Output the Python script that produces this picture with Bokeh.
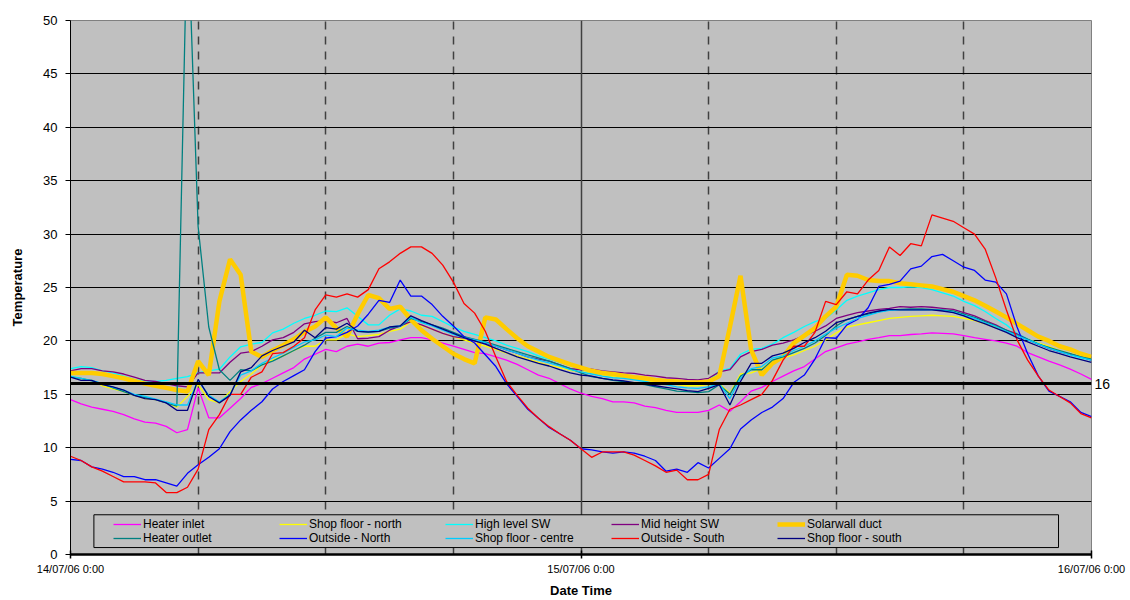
from bokeh.plotting import figure
from bokeh.models import (ColumnDataSource, Range1d, FixedTicker, Legend, LegendItem,
                          Span, BoxAnnotation, Grid, LinearAxis)
from bokeh.embed import file_html
from bokeh.resources import INLINE

# ---------------- data (30-minute readings from 14/07/06 0:00) ----------------
N_READINGS = 97
HOURS = [0.5 * i for i in range(N_READINGS)]
X_TICKS = [0, 24, 48]
X_TICK_LABELS = ["14/07/06 0:00", "15/07/06 0:00", "16/07/06 0:00"]
Y_TICKS = [0, 5, 10, 15, 20, 25, 30, 35, 40, 45, 50]
SIX_HOUR_MARKS = [6, 12, 18, 30, 36, 42]
DAY_MARKS = [24]
THRESHOLD = 16

heater_inlet = [
    14.5, 14.1, 13.8, 13.6, 13.4, 13.1, 12.7, 12.4, 12.3, 12.0, 11.4, 11.7, 15.6, 12.8, 12.8, 13.7,
    14.6, 15.65, 16.0, 16.5, 17.0, 17.5, 18.3, 18.75, 19.2,
    19.0, 19.5, 19.7, 19.5, 19.8, 19.85, 20.1, 20.3, 20.3, 20.1, 19.8, 19.5, 19.2, 18.9, 18.8, 18.5,
    18.2, 17.8, 17.3, 16.8, 16.5, 16.0, 15.5, 15.1,
    14.8, 14.6, 14.3, 14.3, 14.2, 13.9, 13.75, 13.5, 13.3, 13.3, 13.3, 13.5, 14.0, 13.4, 14.3, 15.3,
    15.65, 16.2, 16.7, 17.2, 17.6, 18.3, 19.0, 19.35,
    19.7, 19.9, 20.15, 20.3, 20.5, 20.5, 20.6, 20.65, 20.75, 20.7, 20.65, 20.5, 20.3, 20.15, 20.0,
    19.8, 19.5, 18.9, 18.5, 18.1, 17.75, 17.35, 16.9, 16.4]

heater_outlet = [
    16.6, 16.5, 16.25, 16.0, 15.6, 15.25, 14.9, 14.7, 14.5, 14.2, 13.9, 60.0, 30.7, 21.3, 17.3, 16.3,
    17.3, 17.2, 17.75, 18.1, 18.6, 19.1, 19.6, 20.25, 20.8,
    20.8, 21.35, 20.9, 20.8, 20.9, 21.2, 21.35, 22.1, 21.8, 21.5, 21.2, 20.8, 20.4, 20.15, 19.9, 19.6,
    19.3, 19.0, 18.7, 18.4, 18.1, 17.75, 17.4, 17.0,
    16.65, 16.5, 16.3, 16.2, 16.0, 15.9, 15.7, 15.5, 15.3, 15.25, 15.15, 15.25, 15.9, 15.0, 16.7, 17.3,
    17.3, 18.2, 18.5, 18.9, 19.3, 19.8, 20.5, 21.4,
    22.0, 22.3, 22.5, 22.75, 22.9, 22.95, 23.0, 23.0, 22.95, 22.9, 22.8, 22.5, 22.2, 21.8, 21.4,
    21.0, 20.55, 20.15, 19.7, 19.4, 19.1, 18.8, 18.5, 18.3]

shop_floor_north = [
    16.7, 16.5, 16.3, 15.8, 15.5, 15.25, 14.9, 14.6, 14.5, 14.25, 13.8, 14.8, 15.9, 14.5, 14.2, 15.25,
    16.2, 16.9, 17.75, 18.2, 18.6, 19.1, 19.5, 19.5, 20.1,
    20.1, 20.65, 20.4, 20.5, 20.6, 20.9, 21.1, 21.8, 21.4, 21.1, 20.7, 20.4, 20.1, 19.8, 19.5, 19.2,
    18.85, 18.6, 18.3, 18.0, 17.7, 17.5, 17.25, 17.1,
    17.0, 16.8, 16.65, 16.55, 16.4, 16.3, 16.15, 16.0, 15.9, 15.8, 15.8, 15.9, 16.0, 15.1, 16.9, 17.0,
    17.4, 18.1, 18.4, 18.7, 19.1, 19.5, 20.1, 20.75,
    21.3, 21.5, 21.7, 21.9, 22.1, 22.2, 22.3, 22.35, 22.4, 22.35, 22.3, 22.1, 21.9, 21.6, 21.3,
    20.9, 20.55, 20.2, 19.8, 19.5, 19.1, 18.8, 18.55, 18.3]

outside_north = [
    8.9, 8.8, 8.2, 8.0, 7.7, 7.3, 7.3, 7.0, 7.0, 6.7, 6.4, 7.6, 8.4, 9.1, 9.9, 11.5,
    12.6, 13.5, 14.3, 15.5, 16.2, 16.75, 17.3, 19.0, 20.25,
    20.4, 20.8, 21.4, 22.5, 23.8, 23.6, 25.7, 24.2, 24.2, 23.4, 22.3, 21.4, 20.4, 19.8, 18.7, 17.6,
    16.0, 14.8, 13.6, 12.75, 11.9, 11.3, 10.7, 9.9,
    9.8, 9.6, 9.5, 9.6, 9.5, 9.2, 8.8, 7.8, 8.0, 7.7, 8.6, 8.1, 9.0, 9.9, 11.75, 12.6,
    13.3, 13.8, 14.6, 16.1, 16.8, 18.3, 20.3, 20.25,
    21.5, 22.0, 23.1, 25.1, 25.3, 25.6, 26.75, 27.0, 27.9, 28.1, 27.5, 26.9, 26.6, 25.7, 25.5,
    24.4, 21.3, 18.8, 16.7, 15.3, 14.8, 14.3, 13.3, 12.9]

high_level_sw = [
    17.4, 17.6, 17.5, 17.2, 17.0, 16.7, 16.4, 16.25, 16.2, 16.3, 16.5, 16.65, 17.0, 17.2, 17.35, 18.5,
    19.45, 19.7, 19.85, 20.75, 21.1, 21.65, 22.1, 22.4, 22.8,
    22.75, 23.1, 22.3, 21.5, 21.5, 22.4, 23.0, 22.8, 22.4, 22.3, 21.8, 21.3, 20.9, 20.6, 20.3, 20.0,
    19.6, 19.3, 19.0, 18.6, 18.3, 18.0, 17.7, 17.3,
    17.1, 16.9, 16.8, 16.7, 16.65, 16.5, 16.4, 16.3, 16.2, 16.1, 16.1, 16.25, 17.2, 17.4, 18.75, 19.2,
    19.3, 19.7, 20.3, 20.8, 21.35, 21.8, 22.1, 22.9,
    23.8, 24.2, 24.5, 24.8, 25.0, 25.0, 25.05, 25.0, 24.8, 24.5, 24.2, 23.7, 23.3, 22.75, 22.1,
    21.5, 20.7, 20.2, 19.75, 19.3, 19.0, 18.7, 18.4, 18.2]

shop_floor_centre = [
    16.7, 16.5, 16.3, 16.0, 15.65, 15.4, 15.0, 14.8, 14.55, 14.3, 14.0, 14.0, 16.35, 14.9, 14.3, 15.0,
    16.8, 17.2, 17.9, 18.4, 18.85, 19.4, 19.9, 20.1, 20.55,
    20.4, 21.2, 21.0, 20.9, 21.0, 21.3, 21.4, 22.2, 21.7, 21.4, 21.0, 20.6, 20.3, 20.1, 19.85, 19.5,
    19.15, 18.85, 18.5, 18.2, 17.95, 17.65, 17.3, 17.1,
    16.9, 16.7, 16.55, 16.5, 16.35, 16.2, 16.0, 15.9, 15.7, 15.6, 15.55, 15.7, 16.0, 14.6, 16.5, 17.4,
    17.6, 18.4, 18.6, 19.1, 19.5, 20.0, 20.65, 21.2,
    21.65, 22.1, 22.4, 22.7, 22.85, 22.9, 22.9, 22.9, 22.9, 22.85, 22.7, 22.4, 22.1, 21.7, 21.35,
    20.9, 20.5, 20.1, 19.7, 19.3, 19.0, 18.7, 18.45, 18.2]

mid_height_sw = [
    17.2, 17.4, 17.4, 17.2, 17.1, 16.9, 16.6, 16.3, 16.2, 16.0, 15.8, 15.7, 17.0, 17.0, 17.0, 18.0,
    18.85, 19.0, 19.5, 20.1, 20.3, 20.8, 21.6, 21.8, 21.9,
    21.7, 22.1, 20.2, 20.25, 20.4, 21.0, 21.4, 21.8, 21.5, 21.1, 20.7, 20.4, 20.25, 20.0, 19.8, 19.5,
    19.15, 18.85, 18.5, 18.3, 18.1, 17.75, 17.4, 17.3,
    17.35, 17.2, 17.1, 17.0, 16.95, 16.8, 16.7, 16.55, 16.5, 16.4, 16.35, 16.5, 17.1, 17.3, 18.5, 19.0,
    19.2, 19.6, 19.8, 20.1, 20.5, 20.9, 21.4, 22.1,
    22.4, 22.65, 22.8, 22.95, 23.05, 23.2, 23.15, 23.2, 23.15, 23.05, 22.95, 22.65, 22.35, 21.9, 21.5,
    21.0, 20.65, 20.15, 19.7, 19.3, 19.0, 18.75, 18.5, 18.2]

outside_south = [
    9.2, 8.8, 8.2, 7.8, 7.3, 6.8, 6.8, 6.8, 6.7, 5.8, 5.8, 6.3, 8.0, 11.7, 13.1, 15.0,
    15.0, 16.6, 17.1, 18.8, 18.9, 19.5, 20.3, 22.9, 24.3,
    24.1, 24.4, 24.1, 24.8, 26.75, 27.4, 28.2, 28.8, 28.8, 28.2, 27.1, 25.5, 23.5, 22.6, 20.9, 18.5,
    16.2, 14.9, 13.7, 12.75, 11.97, 11.3, 10.7, 9.9,
    9.1, 9.6, 9.6, 9.6, 9.3, 8.8, 8.3, 7.7, 7.9, 7.0, 7.0, 7.5, 11.7, 13.6, 14.0, 14.5,
    15.0, 16.3, 18.2, 19.5, 19.5, 20.8, 23.7, 23.4,
    24.6, 24.4, 25.7, 26.6, 28.8, 28.0, 29.1, 28.9, 31.8, 31.5, 31.2, 30.6, 30.0, 28.6, 25.9,
    22.9, 20.1, 18.2, 16.7, 15.4, 14.8, 14.2, 13.2, 12.8]

solarwall_duct = [
    17.0, 17.0, 17.0, 16.9, 16.7, 16.5, 16.25, 16.0, 15.8, 15.6, 15.4, 15.25, 18.1, 16.8, 23.7, 27.65,
    26.2, 19.0, 18.5, 19.1, 19.6, 20.15, 20.85, 21.35, 22.2,
    21.2, 20.4, 22.5, 24.3, 24.0, 23.0, 23.2, 22.0, 21.0, 20.2, 19.5, 18.8, 18.3, 17.9, 22.2, 22.0,
    21.1, 20.25, 19.5, 19.0, 18.5, 18.15, 17.8, 17.5,
    17.2, 17.0, 16.9, 16.75, 16.6, 16.5, 16.35, 16.25, 16.2, 16.1, 16.1, 16.2, 16.7, 21.3, 26.1, 19.15,
    16.8, 17.9, 18.5, 19.8, 20.5, 21.2, 22.3, 23.2,
    26.2, 26.1, 25.7, 25.6, 25.6, 25.4, 25.3, 25.2, 25.1, 24.85, 24.6, 24.2, 23.8, 23.3, 22.75,
    22.2, 21.6, 21.0, 20.4, 20.0, 19.5, 19.2, 18.8, 18.5]

shop_floor_south = [
    16.6, 16.3, 16.3, 15.9, 15.7, 15.4, 14.9, 14.6, 14.5, 14.2, 13.5, 13.5, 16.4, 14.8, 14.2, 14.9,
    17.1, 17.5, 18.6, 19.1, 19.5, 19.9, 21.0, 20.3, 21.25,
    21.1, 21.65, 20.9, 20.85, 20.9, 21.3, 21.4, 22.35, 21.9, 21.5, 21.1, 20.7, 20.3, 20.0, 19.7, 19.3,
    18.9, 18.5, 18.2, 17.9, 17.65, 17.3, 17.0, 16.8,
    16.7, 16.5, 16.35, 16.25, 16.1, 15.95, 15.8, 15.65, 15.5, 15.35, 15.25, 15.55, 15.9, 14.0, 16.2, 17.9,
    17.9, 18.6, 18.85, 19.3, 19.85, 20.3, 20.9, 21.7,
    22.0, 22.3, 22.6, 22.8, 22.95, 22.9, 22.9, 22.9, 22.9, 22.8, 22.65, 22.35, 21.95, 21.6, 21.2,
    20.8, 20.3, 19.9, 19.5, 19.1, 18.8, 18.5, 18.25, 18.0]

# series: (legend label, column, values, colour, line width) - drawing / legend order
SERIES = [
    ("Heater inlet", "heater_inlet", heater_inlet, "#FF00FF", 1.3),
    ("Shop floor - north", "shop_floor_north", shop_floor_north, "#FFFF00", 1.3),
    ("High level SW", "high_level_sw", high_level_sw, "#00FFFF", 1.3),
    ("Mid height SW", "mid_height_sw", mid_height_sw, "#800080", 1.3),
    ("Solarwall duct", "solarwall_duct", solarwall_duct, "#FFCC00", 4.5),
    ("Heater outlet", "heater_outlet", heater_outlet, "#008080", 1.3),
    ("Outside - North", "outside_north", outside_north, "#0000FF", 1.3),
    ("Shop floor - centre", "shop_floor_centre", shop_floor_centre, "#00CCFF", 1.3),
    ("Outside - South", "outside_south", outside_south, "#FF0000", 1.3),
    ("Shop floor - south", "shop_floor_south", shop_floor_south, "#000080", 1.3),
]

FONT = "Liberation Sans"

data = {"hours": HOURS}
for _, col, vals, _, _ in SERIES:
    data[col] = vals
source = ColumnDataSource(data)

p = figure(width=1130, height=600, output_backend="svg", toolbar_location=None,
           x_range=Range1d(X_TICKS[0], X_TICKS[-1]), y_range=Range1d(Y_TICKS[0], Y_TICKS[-1]),
           min_border_left=70, min_border_right=39, min_border_top=20, min_border_bottom=45,
           background_fill_color="#C0C0C0", border_fill_color="white",
           outline_line_color="#808080", outline_line_width=1)

# x axis
p.xaxis.ticker = FixedTicker(ticks=X_TICKS, minor_ticks=[])
p.xaxis.major_label_overrides = dict(zip(X_TICKS, X_TICK_LABELS))
p.xaxis.axis_label = "Date Time"
p.xaxis.axis_label_text_font = FONT
p.xaxis.axis_label_text_font_size = "13px"
p.xaxis.axis_label_text_font_style = "bold"
p.xaxis.axis_label_text_color = "black"
p.xaxis.axis_label_standoff = 5
p.xaxis.major_label_text_font = FONT
p.xaxis.major_label_text_font_size = "11px"
p.xaxis.major_label_text_color = "black"
p.xaxis.major_label_standoff = 4
p.xaxis.axis_line_color = "black"
p.xaxis.axis_line_width = 2.5
p.xaxis.major_tick_line_color = "black"
p.xaxis.major_tick_line_width = 1.5
p.xaxis.major_tick_in = 4
p.xaxis.major_tick_out = 4
p.xaxis.minor_tick_line_color = None

# y axis
p.yaxis.ticker = FixedTicker(ticks=Y_TICKS, minor_ticks=[])
p.yaxis.axis_label = "Temperature"
p.yaxis.axis_label_text_font = FONT
p.yaxis.axis_label_text_font_size = "13px"
p.yaxis.axis_label_text_font_style = "bold"
p.yaxis.axis_label_text_color = "black"
p.yaxis.axis_label_standoff = 15
p.yaxis.major_label_text_font = FONT
p.yaxis.major_label_text_font_size = "13px"
p.yaxis.major_label_text_color = "black"
p.yaxis.major_label_standoff = 8
p.yaxis.axis_line_color = "black"
p.yaxis.axis_line_width = 1
p.yaxis.major_tick_line_color = "black"
p.yaxis.major_tick_in = 0
p.yaxis.major_tick_out = 5
p.yaxis.minor_tick_line_color = None

# right-hand axis carrying only the threshold value label
thr_axis = LinearAxis(ticker=FixedTicker(ticks=[THRESHOLD], minor_ticks=[]),
                      axis_line_color=None, major_tick_line_color=None,
                      minor_tick_line_color=None, major_tick_in=0, major_tick_out=0,
                      major_label_standoff=3, major_label_text_font=FONT,
                      major_label_text_font_size="14px", major_label_text_color="black",
                      major_label_text_baseline="bottom")
p.add_layout(thr_axis, "right")

# grids
p.ygrid.ticker = FixedTicker(ticks=Y_TICKS[1:-1])
p.ygrid.grid_line_color = "black"
p.ygrid.grid_line_width = 1
p.ygrid.grid_line_alpha = 1
p.xgrid.ticker = FixedTicker(ticks=SIX_HOUR_MARKS)
p.xgrid.grid_line_color = "#404040"
p.xgrid.grid_line_width = 1.5
p.xgrid.grid_line_dash = "8 7"
p.xgrid.grid_line_alpha = 1
day_grid = Grid(dimension=0, ticker=FixedTicker(ticks=DAY_MARKS),
                grid_line_color="#404040", grid_line_width=1.5)
p.add_layout(day_grid)

# series lines
items = []
for label, col, _, color, lw in SERIES:
    r = p.line("hours", col, source=source, line_color=color, line_width=lw)
    items.append(LegendItem(label=label, renderers=[r]))

# threshold line
p.add_layout(Span(location=THRESHOLD, dimension="width", line_color="black", line_width=3))

# legend frame (layout decoration in chart units) and legend
p.add_layout(BoxAnnotation(left=1.1, right=46.45, bottom=0.65, top=3.72,
                           fill_color="#C0C0C0", fill_alpha=1,
                           line_color="black", line_width=1, line_alpha=1))
legend = Legend(items=items, location=(43, 9), orientation="horizontal", ncols=5,
                glyph_width=28, glyph_height=12, label_standoff=2, label_width=136,
                label_height=12, spacing=0, padding=0, margin=0,
                border_line_alpha=0, background_fill_alpha=0,
                label_text_font=FONT, label_text_font_size="12px", label_text_color="black")
p.add_layout(legend)

open("out.html", "w").write(file_html(p, INLINE))
